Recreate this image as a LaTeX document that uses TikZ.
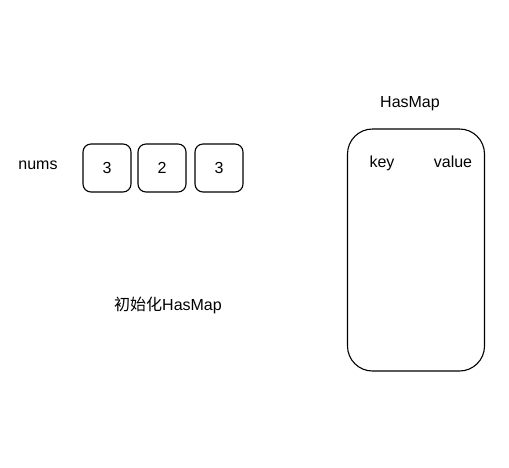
\documentclass[tikz,border=0pt]{standalone}
\usepackage{fontspec}
\setmainfont{Liberation Sans}
\newfontfamily\cjk{Noto Sans CJK SC}
\tikzset{
  cell/.style={draw, line width=1.1pt, rounded corners=8pt, minimum width=48pt, minimum height=48pt, font=\fontsize{16}{18}\selectfont},
  maptext/.style={font=\fontsize{16}{18}\selectfont},
}
\begin{document}
\begin{tikzpicture}[x=1pt, y=-1pt]
% 画布大小
\useasboundingbox (0,0) rectangle (509,467);
% 数组 nums
\node[maptext] (numslabel) at (38,165) {nums};
\node[cell] (c1) at (107,168) {3};
\node[cell] (c2) at (162,168) {2};
\node[cell] (c3) at (219,168) {3};
% 哈希表
\node[maptext] (maptitle) at (410,104) {HasMap};
\node[draw, line width=1.1pt, rounded corners=25pt, minimum width=137pt, minimum height=242pt] (map) at (416,250) {};
\node[maptext] (keylabel) at (382,163) {key};
\node[maptext] (valuelabel) at (453,162) {value};
% 说明文字
\node[maptext] (caption) at (168,305) {{\cjk 初始化}HasMap};
\end{tikzpicture}
\end{document}
